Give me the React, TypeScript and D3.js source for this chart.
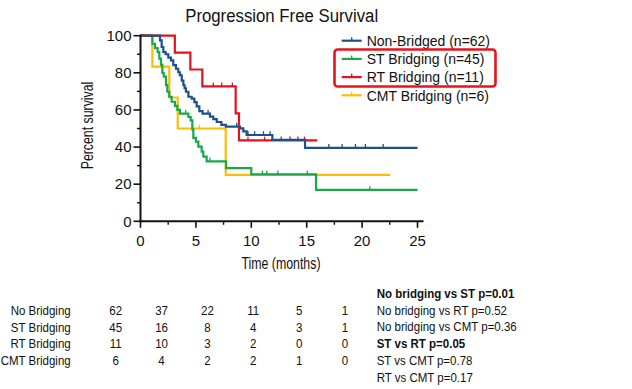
import React from "react";
import * as d3 from "d3";

// ---------- data ----------
const TITLE = "Progression Free Survival";
const X_TICKS = [0, 5, 10, 15, 20, 25];
const X_MINOR = [2.5, 7.5, 12.5, 17.5, 22.5];
const Y_TICKS = [0, 20, 40, 60, 80, 100];
const Y_MINOR = [10, 30, 50, 70, 90];

// Kaplan-Meier steps: [time (months), survival %]
const nonBridgedSteps: [number, number][] = [
  [0, 100], [1.76, 97.5], [1.91, 93.9], [2.06, 91.2], [2.27, 90.0], [2.51, 88.2],
  [2.75, 86.7], [2.96, 84.2], [3.2, 82.2], [3.41, 80.3], [3.55, 78.7], [3.72, 75.8],
  [3.87, 73.3], [3.98, 71.7], [4.1, 69.8], [4.32, 67.1], [4.62, 66.1], [4.86, 64.2],
  [5.07, 61.9], [5.31, 59.4], [5.6, 58.0], [6.27, 56.4], [6.57, 55.0], [6.88, 53.5],
  [7.3, 51.9], [7.7, 51.0], [8.98, 50.1], [9.28, 48.5], [9.58, 46.5], [11.9, 43.9],
  [14.85, 39.6],
];
const nonBridgedEnd = 25;
const nonBridgedCensor = [6.1, 8.68, 9.7, 10.3, 11.1, 11.7, 17.0, 18.2, 19.4, 20.3, 21.9];

const stSteps: [number, number][] = [
  [0, 100], [1.07, 95.6], [1.31, 93.3], [1.55, 91.1], [1.7, 87.6], [1.85, 84.4],
  [1.97, 80.0], [2.1, 78.0], [2.3, 73.4], [2.42, 69.8], [2.6, 67.1], [2.81, 64.4],
  [3.11, 62.2], [3.32, 60.0], [3.56, 58.0], [4.32, 56.2], [4.53, 54.4], [4.68, 49.5],
  [4.77, 45.0], [5.0, 42.9], [5.22, 40.2], [5.52, 37.5], [5.67, 34.8], [5.97, 32.3],
  [7.72, 28.6], [10.0, 25.3], [15.84, 16.9],
];
const stEnd = 25;
const stCensor = [4.08, 6.27, 11.0, 11.4, 12.4, 15.05, 20.7];

const rtSteps: [number, number][] = [
  [0, 100], [3.1, 90.9], [4.5, 81.8], [5.58, 72.7], [8.59, 58.2], [8.89, 43.6],
];
const rtEnd = 15.95;
const rtCensor = [6.57, 7.33, 8.29, 9.7, 11.2, 12.7, 13.5, 14.2, 14.8];

const cmtSteps: [number, number][] = [
  [0, 100], [1.07, 83.3], [2.6, 66.7], [3.36, 50.0], [7.69, 25.0],
];
const cmtEnd = 22.55;
const cmtCensor = [5.3];

const seriesNames = ["Non-Bridged (n=62)", "ST Bridging (n=45)", "RT Bridging (n=11)", "CMT Bridging (n=6)"];
const seriesColors = ["#1d4f8a", "#18a84a", "#e3121d", "#ffbd00"];

// risk table
const riskLabels = ["No Bridging", "ST Bridging", "RT Bridging", "CMT Bridging"];
const riskTimes = [0, 5, 10, 15, 20, 25];
const riskNoBridging = [62, 37, 22, 11, 5, 1];
const riskST = [45, 16, 8, 4, 3, 1];
const riskRT = [11, 10, 3, 2, 0, 0];
const riskCMT = [6, 4, 2, 2, 1, 0];

const pValueTexts = [
  "No bridging vs ST p=0.01",
  "No bridging vs RT p=0.52",
  "No bridging vs CMT p=0.36",
  "ST vs RT p=0.05",
  "ST vs CMT p=0.78",
  "RT vs CMT p=0.17",
];
const pValueBold = [true, false, false, true, false, false];

// ---------- component ----------
export default function App() {
  const W = 632, H = 389;
  const x = d3.scaleLinear().domain([0, 25]).range([140.5, 417.5]);
  const y = d3.scaleLinear().domain([0, 100]).range([221.3, 35.7]);
  const colX = d3.scaleLinear().domain([0, 25]).range([115.7, 345]);
  const font = "'Liberation Sans', Arial, Helvetica, sans-serif";
  const tblSize = 13;
  const tblScale = 11.5 / 13;

  const series = [
    { steps: nonBridgedSteps, end: nonBridgedEnd, censor: nonBridgedCensor },
    { steps: stSteps, end: stEnd, censor: stCensor },
    { steps: rtSteps, end: rtEnd, censor: rtCensor },
    { steps: cmtSteps, end: cmtEnd, censor: cmtCensor },
  ];
  const line = d3
    .line<[number, number]>()
    .x((d) => x(d[0]))
    .y((d) => y(d[1]))
    .curve(d3.curveStepAfter);

  const survAt = (steps: [number, number][], t: number) => {
    let v = steps[0][1];
    for (const s of steps) if (s[0] <= t) v = s[1];
    return v;
  };

  const drawOrder = [3, 1, 2, 0];
  const riskRows = [riskNoBridging, riskST, riskRT, riskCMT];

  return (
    <svg width={W} height={H} style={{ position: "absolute", left: 0, top: 0, background: "#fff" }} fontFamily={font}>
      <rect width={W} height={H} fill="#fff" />
      {/* title */}
      <text x={281.7} y={21.5} textAnchor="middle" fontSize={18} textLength={193} lengthAdjust="spacingAndGlyphs" fill="#111">
        {TITLE}
      </text>

      {/* curves */}
      {drawOrder.map((i) => {
        const s = series[i];
        const last = s.steps[s.steps.length - 1];
        const pts: [number, number][] = [...s.steps, [s.end, last[1]]];
        return (
          <g key={i}>
            <path d={line(pts) || ""} fill="none" stroke={seriesColors[i]} strokeWidth={2.2} />
            {s.censor.map((t, j) => {
              const v = survAt(s.steps, t);
              return (
                <line key={j} x1={x(t)} x2={x(t)} y1={y(v)} y2={y(v) - 3.8} stroke={seriesColors[i]} strokeWidth={1.3} />
              );
            })}
          </g>
        );
      })}

      {/* axes */}
      <line x1={x(0)} x2={x(0)} y1={y(100) - 1} y2={y(0) + 1} stroke="#111" strokeWidth={2} />
      <line x1={x(0) - 1} x2={423.5} y1={y(0)} y2={y(0)} stroke="#111" strokeWidth={2} />
      {Y_TICKS.map((t) => (
        <g key={"y" + t}>
          <line x1={x(0) - 7} x2={x(0)} y1={y(t)} y2={y(t)} stroke="#111" strokeWidth={1.6} />
          <text x={131.5} y={y(t) + 5.3} textAnchor="end" fontSize={15} fill="#111">
            {t}
          </text>
        </g>
      ))}
      {Y_MINOR.map((t) => (
        <line key={"ym" + t} x1={x(0) - 3.5} x2={x(0)} y1={y(t)} y2={y(t)} stroke="#111" strokeWidth={1.4} />
      ))}
      {X_TICKS.map((t) => (
        <g key={"x" + t}>
          <line x1={x(t)} x2={x(t)} y1={y(0)} y2={y(0) + 6.5} stroke="#111" strokeWidth={1.6} />
          <text x={x(t)} y={246} textAnchor="middle" fontSize={15} fill="#111">
            {t}
          </text>
        </g>
      ))}
      {X_MINOR.map((t) => (
        <line key={"xm" + t} x1={x(t)} x2={x(t)} y1={y(0)} y2={y(0) + 3.5} stroke="#111" strokeWidth={1.4} />
      ))}
      <text x={281} y={269} textAnchor="middle" fontSize={16} textLength={79} lengthAdjust="spacingAndGlyphs" fill="#111">
        Time (months)
      </text>
      <text
        transform={`translate(92.8,125.5) rotate(-90)`}
        textAnchor="middle"
        fontSize={16}
        textLength={87.6}
        lengthAdjust="spacingAndGlyphs"
        fill="#111"
      >
        Percent survival
      </text>

      {/* legend */}
      {seriesNames.map((n, i) => {
        const ly = 40.7 + i * 18.2;
        return (
          <g key={n}>
            <line x1={341.7} x2={361.7} y1={ly} y2={ly} stroke={seriesColors[i]} strokeWidth={2.2} />
            <line x1={351.7} x2={351.7} y1={ly} y2={ly - 3.5} stroke={seriesColors[i]} strokeWidth={1.3} />
            <text x={366.7} y={ly + 5.3} fontSize={14} fill="#111">
              {n}
            </text>
          </g>
        );
      })}
      <rect x={334.5} y={49.5} width={161} height={37} rx={3} ry={3} fill="none" stroke="#e8141c" strokeWidth={2.6} />

      {/* risk table */}
      {riskLabels.map((lab, r) => {
        const by = 315 + r * 16.7;
        return (
          <g key={lab}>
            <text transform={`translate(70.7,${by}) scale(${tblScale},1)`} textAnchor="end" fontSize={tblSize} fill="#111">
              {lab}
            </text>
            {riskRows[r].map((v, c) => (
              <text
                key={c}
                transform={`translate(${colX(riskTimes[c])},${by}) scale(${tblScale},1)`}
                textAnchor="middle"
                fontSize={tblSize}
                fill="#111"
              >
                {v}
              </text>
            ))}
          </g>
        );
      })}

      {/* p values */}
      {pValueTexts.map((p, i) => (
        <text
          key={p}
          transform={`translate(376.7,${297.8 + i * 16.75}) scale(${tblScale},1)`}
          fontSize={tblSize}
          fontWeight={pValueBold[i] ? "bold" : "normal"}
          fill="#111"
        >
          {p}
        </text>
      ))}
    </svg>
  );
}
